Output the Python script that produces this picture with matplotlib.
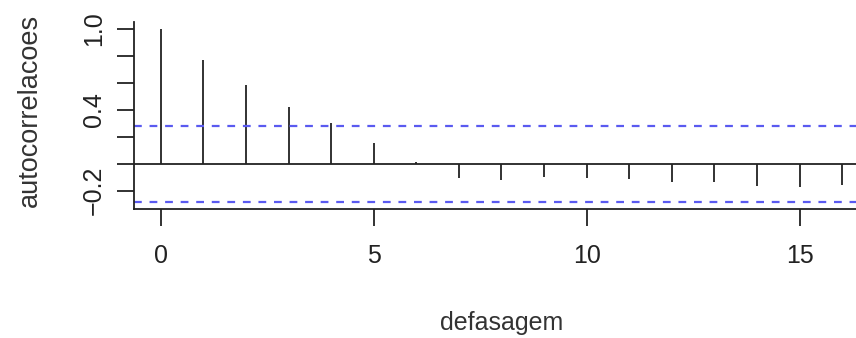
import numpy as np
import matplotlib
matplotlib.use("Agg")
import matplotlib.pyplot as plt

plt.rcParams['font.family'] = ['Liberation Sans', 'DejaVu Sans']

# autocorrelation values
lags = np.arange(0, 17)
acf_vals = [1.0, 0.77, 0.585, 0.424, 0.30, 0.158, 0.012, -0.106, -0.118,
            -0.099, -0.106, -0.111, -0.136, -0.138, -0.163, -0.175, -0.156]
conf = 0.28
x_ticks = [0, 5, 10, 15]
y_ticks = [-0.2, 0.0, 0.2, 0.4, 0.6, 0.8, 1.0]
y_ticklabels = ['\u22120.2', '', '', '0.4', '', '', '1.0']

fig = plt.figure(figsize=(8.56, 3.38), dpi=100)
# axes runs past the right edge, like the cropped original
ax = fig.add_axes([0.1565, 0.3817, 0.887, 0.553])

ax.vlines(lags, 0, acf_vals, color='#222222', linewidth=1.3)
ax.axhline(0, color='#222222', linewidth=1.3)
ax.axhline(conf, color='#5a5af0', linewidth=1.6, linestyle=(0, (3.5, 3.5)))
ax.axhline(-conf, color='#5a5af0', linewidth=1.6, linestyle=(0, (3.5, 3.5)))

ax.set_xlim(-0.63, 17.2)
ax.set_ylim(-0.335, 1.052)

for s in ['top', 'right']:
    ax.spines[s].set_visible(False)
for s in ['left', 'bottom']:
    ax.spines[s].set_linewidth(1.3)
    ax.spines[s].set_color('#222222')

ax.set_xticks(x_ticks)
ax.set_yticks(y_ticks)
ax.set_yticklabels(y_ticklabels, rotation=90, va='center')
ax.tick_params(axis='both', length=12, width=1.3, color='#222222',
               labelsize=18, labelcolor='#222222')
ax.tick_params(axis='x', pad=13)
ax.tick_params(axis='y', pad=8)

fig.text(0.035, 0.672, 'autocorrelacoes', rotation=90, ha='center', va='center',
         fontsize=19.5, color='#333333')
fig.text(0.586, 0.045, 'defasagem', ha='center', va='center',
         fontsize=18, color='#333333')

fig.savefig('out.png', dpi=100)
